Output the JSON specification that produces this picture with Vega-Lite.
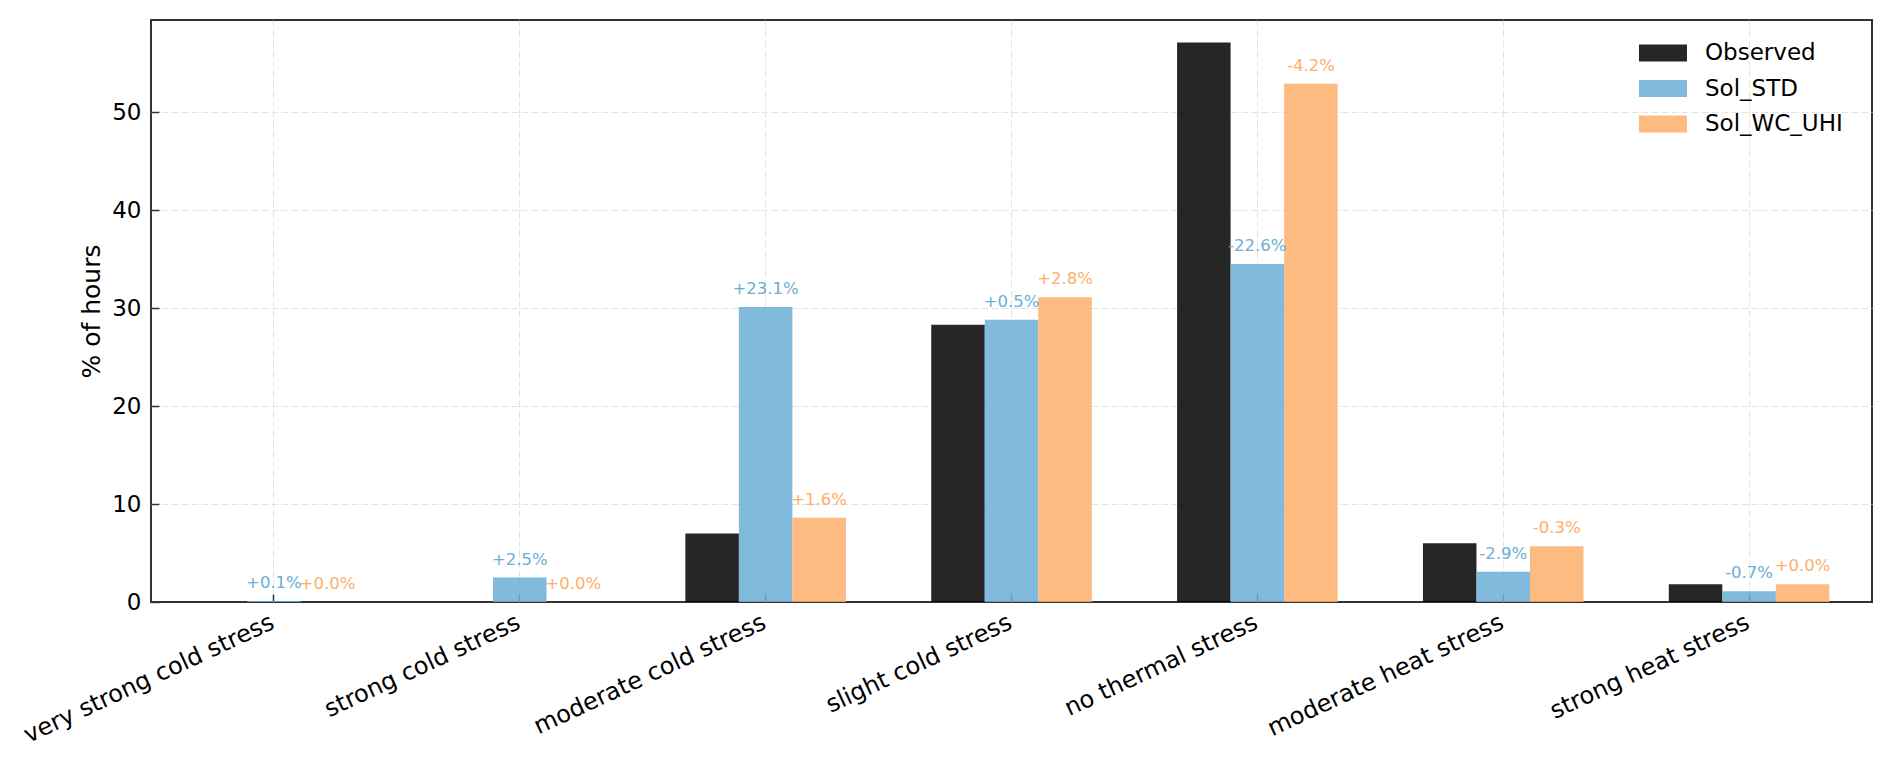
{
  "$schema": "https://vega.github.io/schema/vega-lite/v6.json",
  "width": 1721,
  "height": 582,
  "autosize": {"type": "none"},
  "padding": {"left": 151, "top": 20, "right": 20, "bottom": 157},
  "background": "white",

  "data": {
    "values": [
      {"category": "very strong cold stress", "series": "Observed", "value": 0, "label": ""},
      {"category": "very strong cold stress", "series": "Sol_STD", "value": 0.1, "label": "+0.1%"},
      {"category": "very strong cold stress", "series": "Sol_WC_UHI", "value": 0, "label": "+0.0%"},
      {"category": "strong cold stress", "series": "Observed", "value": 0, "label": ""},
      {"category": "strong cold stress", "series": "Sol_STD", "value": 2.5, "label": "+2.5%"},
      {"category": "strong cold stress", "series": "Sol_WC_UHI", "value": 0, "label": "+0.0%"},
      {"category": "moderate cold stress", "series": "Observed", "value": 7.0, "label": ""},
      {"category": "moderate cold stress", "series": "Sol_STD", "value": 30.1, "label": "+23.1%"},
      {"category": "moderate cold stress", "series": "Sol_WC_UHI", "value": 8.6, "label": "+1.6%"},
      {"category": "slight cold stress", "series": "Observed", "value": 28.3, "label": ""},
      {"category": "slight cold stress", "series": "Sol_STD", "value": 28.8, "label": "+0.5%"},
      {"category": "slight cold stress", "series": "Sol_WC_UHI", "value": 31.1, "label": "+2.8%"},
      {"category": "no thermal stress", "series": "Observed", "value": 57.1, "label": ""},
      {"category": "no thermal stress", "series": "Sol_STD", "value": 34.5, "label": "-22.6%"},
      {"category": "no thermal stress", "series": "Sol_WC_UHI", "value": 52.9, "label": "-4.2%"},
      {"category": "moderate heat stress", "series": "Observed", "value": 6.0, "label": ""},
      {"category": "moderate heat stress", "series": "Sol_STD", "value": 3.1, "label": "-2.9%"},
      {"category": "moderate heat stress", "series": "Sol_WC_UHI", "value": 5.7, "label": "-0.3%"},
      {"category": "strong heat stress", "series": "Observed", "value": 1.8, "label": ""},
      {"category": "strong heat stress", "series": "Sol_STD", "value": 1.1, "label": "-0.7%"},
      {"category": "strong heat stress", "series": "Sol_WC_UHI", "value": 1.8, "label": "+0.0%"}
    ]
  },

  "encoding": {
    "x": {
      "field": "category",
      "type": "nominal",
      "sort": ["very strong cold stress", "strong cold stress", "moderate cold stress", "slight cold stress", "no thermal stress", "moderate heat stress", "strong heat stress"],
      "scale": {"paddingInner": 0.347, "paddingOuter": 0.1735},
      "title": null,
      "axis": {
        "labelAngle": -25,
        "labelAlign": "right",
        "labelBaseline": "top",
        "labelFontSize": 24,
        "labelPadding": 16,
        "labelOffset": -6,
        "labelLimit": 0,
        "bandPosition": 0.5,
        "tickSize": -8,
        "grid": true
      }
    },
    "xOffset": {"field": "series", "type": "nominal", "sort": ["Observed", "Sol_STD", "Sol_WC_UHI"]},
    "y": {
      "field": "value",
      "type": "quantitative",
      "scale": {"domain": [0, 59.4], "nice": false},
      "title": "% of hours",
      "axis": {
        "values": [0, 10, 20, 30, 40, 50],
        "tickSize": -8,
        "labelPadding": 18,
        "titleFontSize": 25,
        "titlePadding": 7,
        "grid": true,
        "gridOpacity": {"condition": {"test": "datum.value === 0", "value": 0}, "value": 1}
      }
    },
    "color": {
      "field": "series",
      "type": "nominal",
      "scale": {"domain": ["Observed", "Sol_STD", "Sol_WC_UHI"], "range": ["#000000", "#6baed6", "#fdae6b"]}
    }
  },

  "layer": [
    {
      "mark": {"type": "bar", "opacity": 0.85},
      "encoding": {
        "color": {
          "field": "series",
          "type": "nominal",
          "title": null,
          "legend": {
            "orient": "none",
            "legendX": 1488,
            "legendY": 21,
            "symbolType": "M-1,-0.354L1,-0.354L1,0.354L-1,0.354Z",
            "symbolSize": 2304,
            "symbolStrokeWidth": 0,
            "symbolOpacity": 0.85,
            "clipHeight": 24,
            "rowPadding": 11.5,
            "labelFontSize": 23,
            "labelOffset": 18,
            "padding": 0
          }
        }
      }
    },
    {
      "transform": [{"filter": "datum.series != 'Observed'"}],
      "mark": {"type": "text", "baseline": "alphabetic", "dy": -13, "fontSize": 16.5},
      "encoding": {
        "text": {"field": "label"},
        "color": {"field": "series", "type": "nominal", "legend": null}
      }
    }
  ],

  "config": {
    "font": "DejaVu Sans",
    "view": {"stroke": "#333333", "strokeWidth": 2},
    "axis": {
      "domain": false,
      "labelFont": "DejaVu Sans",
      "labelFontSize": 23,
      "labelColor": "black",
      "titleFont": "DejaVu Sans",
      "titleFontWeight": "normal",
      "titleColor": "black",
      "tickColor": "#333333",
      "tickWidth": 1.5,
      "gridColor": "#e3e3e3",
      "gridDash": [7, 3],
      "gridWidth": 1
    },
    "legend": {
      "labelFont": "DejaVu Sans",
      "labelColor": "black"
    }
  }
}
